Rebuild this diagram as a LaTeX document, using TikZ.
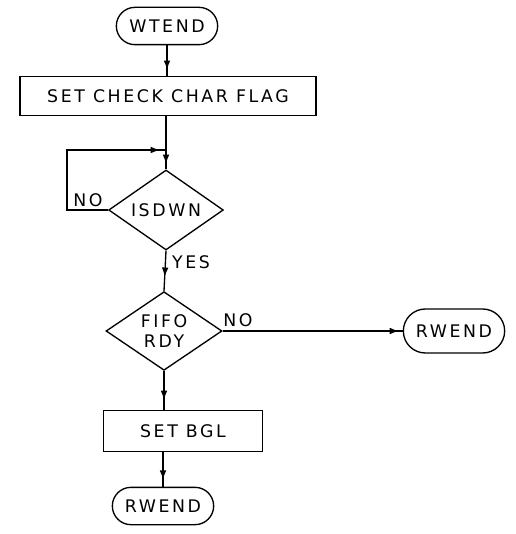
\documentclass[tikz,border=0pt]{standalone}
\usepackage{fontspec}
\usepackage{tikz}
\usetikzlibrary{arrows.meta,shapes.geometric,shapes.misc,decorations.markings}
\newfontfamily\flowfont[LetterSpace=15]{DejaVu Sans}

\begin{document}
\begin{tikzpicture}[x=0.75pt,y=-0.75pt,line width=1pt,
    font=\flowfont\fontsize{13}{15}\selectfont,
    term/.style={draw,rounded rectangle,inner sep=0pt},
    proc/.style={draw,rectangle,inner sep=0pt},
    test/.style={draw,diamond,inner sep=0pt,aspect=1.45,align=center},
    midarrow/.style={postaction={decorate},decoration={markings,
        mark=at position #1 with {\arrow{Latex[length=7pt,width=5pt]}}}}]
    \useasboundingbox (0,0) rectangle (516,534);
    % boxes
    \node[term,minimum width=76pt,minimum height=28pt] (wtend) at (167,26) {WTEND};
    \node[proc,minimum width=222pt,minimum height=29pt] (chk) at (168,96) {SET CHECK CHAR FLAG};
    \node[test,minimum width=86pt,minimum height=60pt] (isdwn) at (166,210) {ISDWN};
    \node[test,minimum width=87pt,minimum height=59pt] (fifo) at (164,331) {FIFO\\RDY};
    \node[term,minimum width=76pt,minimum height=33pt] (rwendA) at (454,331) {RWEND};
    \node[proc,minimum width=119pt,minimum height=31pt] (bgl) at (183,431) {SET BGL};
    \node[term,minimum width=76pt,minimum height=28pt] (rwendB) at (163,506) {RWEND};
    \coordinate (join) at (166,150);
    % flow lines
    \draw[midarrow=0.8] (wtend.south) -- (wtend.south |- chk.north);
    \draw[midarrow=0.9] (chk.south -| isdwn.north) -- (isdwn.north);
    \draw[midarrow=0.97] (isdwn.west) -- ++(-41,0) |- (join);
    \draw[midarrow=0.65] (isdwn.south) -- (fifo.north);
    \draw[midarrow=0.75] (fifo.south) -- (fifo.south |- bgl.north);
    \draw[midarrow=0.8] (rwendB.north |- bgl.south) -- (rwendB.north);
    \draw[midarrow=0.98] (fifo.east) -- (rwendA.west);
    % labels
    \node at (88,200) {NO};
    \node at (191,262) {YES};
    \node at (238,320) {NO};
\end{tikzpicture}
\end{document}
